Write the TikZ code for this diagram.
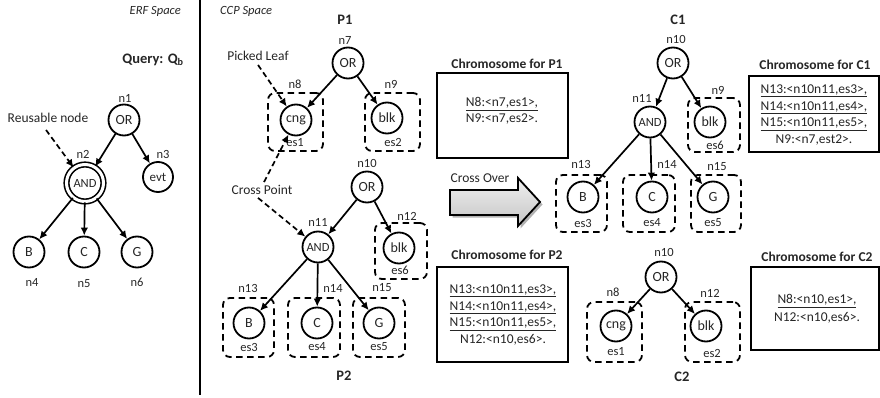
\documentclass[tikz,border=0pt]{standalone}
\usepackage{fontspec}
\setmainfont{Carlito}
\usetikzlibrary{arrows.meta}
\usetikzlibrary{calc,shadows}
\colorlet{inkcol}{black!85}
\colorlet{arrowcol}{gray!12}
\tikzset{>={Latex[length=8pt,width=7.5pt]}}
\tikzstyle{op} = [circle, draw, line width=1.8pt, minimum size=31pt, inner sep=0pt,
                  text=inkcol, font=\fontsize{14}{14}\selectfont]
\tikzstyle{andop} = [op, font=\fontsize{12.5}{12.5}\selectfont]
\tikzstyle{lbl} = [inner sep=0pt, text=inkcol, font=\fontsize{12.5}{12.5}\selectfont]
\tikzstyle{note} = [inner sep=0pt, text=inkcol, font=\fontsize{13.5}{13.5}\selectfont]
\tikzstyle{esbox} = [draw, line width=1.8pt, rounded corners=7pt,
                     dash pattern=on 6.5pt off 4.5pt, inner sep=0pt]
\tikzstyle{edge} = [->, line width=1.7pt]
\tikzstyle{hint} = [->, line width=1.7pt, dash pattern=on 5.5pt off 3.5pt]
\tikzstyle{chromo} = [draw, line width=1.8pt, inner sep=0pt]
\tikzstyle{title} = [inner sep=0pt, text=inkcol, font=\bfseries\fontsize{13.5}{13.5}\selectfont]
\tikzstyle{tree} = [inner sep=0pt, text=inkcol, font=\bfseries\fontsize{14.5}{14.5}\selectfont]

\begin{document}
\begin{tikzpicture}[x=1pt,y=-1pt]
  \useasboundingbox (0,0) rectangle (880,398);

  % SPACES
  \draw[line width=1.3pt] (200,0) -- (200,395);
  \node[lbl, anchor=east, font=\itshape\fontsize{12.5}{12.5}\selectfont] (erf) at (181,11) {ERF Space};
  \node[lbl, anchor=west, font=\itshape\fontsize{12.5}{12.5}\selectfont] (ccp) at (220,11) {CCP Space};

  % QUERY
  \node[tree] (query) at (153,60) {Query: Q\textsubscript{b}};
  \node[op] (q1) at (124,120) {OR};
  \node[op, minimum size=37pt, double, double distance=3pt, line width=1.6pt,
        font=\fontsize{12.5}{12.5}\selectfont] (q2) at (85,183) {AND};
  \node[op, minimum size=30pt, font=\fontsize{13}{13}\selectfont] (q3) at (158,177) {evt};
  \node[op] (q4) at (29,252) {B};
  \node[op] (q5) at (84,252) {C};
  \node[op] (q6) at (137,252) {G};
  \node[lbl] (lq1) at (125,98) {n1};
  \node[lbl] (lq2) at (83,154) {n2};
  \node[lbl] (lq3) at (163,154) {n3};
  \node[lbl] (lq4) at (32,282) {n4};
  \node[lbl] (lq5) at (84,284) {n5};
  \node[lbl] (lq6) at (137,282) {n6};
  \node[note] (reuse) at (48,118) {Reusable node};
  \draw[edge] (q1) -- (q2);
  \draw[edge] (q1) -- (q3);
  \foreach \k in {4,5,6}
    \draw[edge] (q2) -- (q\k);
  \draw[hint] ($(reuse.south)+(-2,7)$) -- (q2);

  % PARENT P1
  \node[tree] (tp1) at (345,20) {P1};
  \node[op] (p7) at (348,63) {OR};
  \node[op] (p8) at (296,120) {cng};
  \node[op] (p9) at (387,118) {blk};
  \node[esbox, minimum width=55pt, minimum height=58pt] (b8) at (295.5,122) {};
  \node[esbox, minimum width=55pt, minimum height=58pt] (b9) at (392.5,122) {};
  \node[lbl] (lp7) at (345,40) {n7};
  \node[lbl] (lp8) at (295,84) {n8};
  \node[lbl] (lp9) at (391,84) {n9};
  \node[lbl] (ep8) at (295,143) {es1};
  \node[lbl] (ep9) at (393,142) {es2};
  \draw[edge] (p7) -- (p8);
  \draw[edge] (p7) -- (p9);
  \node[note] (pick) at (258,56) {Picked Leaf};
  \draw[hint] ($(pick.south)+(0,4)$) -- (p8);

  % PARENT P2
  \node[op] (r10) at (367,187) {OR};
  \node[andop] (r11) at (318,247) {AND};
  \node[op] (r12) at (399,248) {blk};
  \node[op] (r13) at (249,323) {B};
  \node[op] (r14) at (317,323) {C};
  \node[op] (r15) at (379,323) {G};
  \node[esbox, minimum width=52pt, minimum height=56pt] (b12) at (401,251) {};
  \node[esbox, minimum width=51pt, minimum height=59pt] (b13) at (248.5,327.5) {};
  \node[esbox, minimum width=52pt, minimum height=59pt] (b14) at (314,327.5) {};
  \node[esbox, minimum width=52pt, minimum height=59pt] (b15) at (379,327.5) {};
  \node[lbl] (lr10) at (367,163) {n10};
  \node[lbl] (lr11) at (318,222) {n11};
  \node[lbl] (lr12) at (407,216) {n12};
  \node[lbl] (lr13) at (248,288) {n13};
  \node[lbl] (lr14) at (333,288) {n14};
  \node[lbl] (lr15) at (382,288) {n15};
  \node[lbl] (er12) at (400,270) {es6};
  \node[lbl] (er13) at (249,347) {es3};
  \node[lbl] (er14) at (317,347) {es4};
  \node[lbl] (er15) at (379,347) {es5};
  \node[tree] (tp2) at (344,376) {P2};
  \draw[edge] (r10) -- (r11);
  \draw[edge] (r10) -- (r12);
  \foreach \k in {13,14,15}
    \draw[edge] (r11) -- (r\k);
  \node[note] (cross) at (262,190) {Cross Point};
  \draw[hint] ($(cross.north)+(2,-3)$) -- (p8);
  \draw[hint] ($(cross.south)+(-4,3)$) -- (r11);

  % CHROMOSOMES OF PARENTS
  \node[title] (hp1) at (507,64) {Chromosome for P1};
  \node[chromo, minimum width=131pt, minimum height=85pt] (cp1) at (502.5,115.5) {};
  \node[note, align=center, font=\fontsize{13.5}{16}\selectfont] (xp1) at (502,111)
    {\underline{N8:<n7,es1>,}\\N9:<n7,es2>.};
  \node[title] (hp2) at (507,255) {Chromosome for P2};
  \node[chromo, minimum width=131pt, minimum height=95pt] (cp2) at (502.5,314.5) {};
  \node[note, align=center, font=\fontsize{13.5}{16.7}\selectfont] (xp2) at (503,315)
    {\underline{N13:<n10n11,es3>,}\\\underline{N14:<n10n11,es4>,}\\
     \underline{N15:<n10n11,es5>,}\\N12:<n10,es6>.};

  % CROSS OVER
  \draw[line width=1.8pt, top color=arrowcol, bottom color=gray!45,
        drop shadow={shadow xshift=2.5pt, shadow yshift=-2.5pt, fill=black!60}]
    (450,190) -- (518,190) -- (518,178) -- (540,202) -- (518,226) -- (518,215)
    -- (450,215) -- cycle;
  \node[note] (xover) at (480,178) {Cross Over};

  % CHILD C1
  \node[tree] (tc1) at (678,20) {C1};
  \node[op] (s10) at (673,63) {OR};
  \node[andop] (s11) at (650,122) {AND};
  \node[op] (s9) at (710,122) {blk};
  \node[op] (s13) at (583,197) {B};
  \node[op] (s14) at (652,197) {C};
  \node[op] (s15) at (713,197) {G};
  \node[esbox, minimum width=52pt, minimum height=54pt] (c9) at (714,125) {};
  \node[esbox, minimum width=51pt, minimum height=57pt] (c13) at (581.5,203.5) {};
  \node[esbox, minimum width=52pt, minimum height=57pt] (c14) at (649,203.5) {};
  \node[esbox, minimum width=50pt, minimum height=57pt] (c15) at (716,203.5) {};
  \node[lbl] (ls10) at (676,39) {n10};
  \node[lbl] (ls11) at (642,98) {n11};
  \node[lbl] (ls9) at (718,90) {n9};
  \node[lbl] (ls13) at (581,164) {n13};
  \node[lbl] (ls14) at (667,164) {n14};
  \node[lbl] (ls15) at (717,167) {n15};
  \node[lbl] (es9) at (715,145) {es6};
  \node[lbl] (es13) at (583,223) {es3};
  \node[lbl] (es14) at (652,223) {es4};
  \node[lbl] (es15) at (713,223) {es5};
  \draw[edge] (s10) -- (s11);
  \draw[edge] (s10) -- (s9);
  \foreach \k in {13,14,15}
    \draw[edge] (s11) -- (s\k);

  % CHILD C2
  \node[op] (t10) at (661,277) {OR};
  \node[op] (t8) at (616,326) {cng};
  \node[op] (t12) at (706,326) {blk};
  \node[esbox, minimum width=55pt, minimum height=60pt] (d8) at (614.5,332) {};
  \node[esbox, minimum width=55pt, minimum height=60pt] (d12) at (712.5,332) {};
  \node[lbl] (lt10) at (664,252) {n10};
  \node[lbl] (lt8) at (613,292) {n8};
  \node[lbl] (lt12) at (710,293) {n12};
  \node[lbl] (et8) at (616,352) {es1};
  \node[lbl] (et12) at (712,353) {es2};
  \node[tree] (tc2) at (682,377) {C2};
  \draw[edge] (t10) -- (t8);
  \draw[edge] (t10) -- (t12);

  % CHROMOSOMES OF CHILDREN
  \node[title] (hc1) at (815,65) {Chromosome for C1};
  \node[chromo, minimum width=130pt, minimum height=76pt] (cc1) at (814,114) {};
  \node[note, align=center, font=\fontsize{13.5}{16.7}\selectfont] (xc1) at (814,115)
    {\underline{N13:<n10n11,es3>,}\\\underline{N14:<n10n11,es4>,}\\
     \underline{N15:<n10n11,es5>,}\\N9:<n7,est2>.};
  \node[title] (hc2) at (817,257) {Chromosome for C2};
  \node[chromo, minimum width=128pt, minimum height=83pt] (cc2) at (815,308.5) {};
  \node[note, align=center, font=\fontsize{13.5}{18}\selectfont] (xc2) at (817,309)
    {\underline{N8:<n10,es1>,}\\N12:<n10,es6>.};
\end{tikzpicture}
\end{document}
